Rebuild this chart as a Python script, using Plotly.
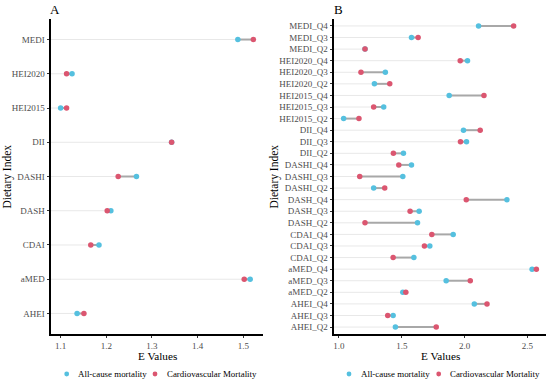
import plotly.graph_objects as go

# ---------------- data ----------------
a_index = ["MEDI", "HEI2020", "HEI2015", "DII", "DASHI", "DASH", "CDAI", "aMED", "AHEI"]
a_all = [1.488, 1.125, 1.100, 1.343, 1.266, 1.210, 1.184, 1.515, 1.136]
a_cvd = [1.522, 1.113, 1.113, 1.343, 1.226, 1.202, 1.166, 1.502, 1.151]

b_index = ["MEDI_Q4", "MEDI_Q3", "MEDI_Q2", "HEI2020_Q4", "HEI2020_Q3", "HEI2020_Q2",
           "HEI2015_Q4", "HEI2015_Q3", "HEI2015_Q2", "DII_Q4", "DII_Q3", "DII_Q2",
           "DASHI_Q4", "DASHI_Q3", "DASHI_Q2", "DASH_Q4", "DASH_Q3", "DASH_Q2",
           "CDAI_Q4", "CDAI_Q3", "CDAI_Q2", "aMED_Q4", "aMED_Q3", "aMED_Q2",
           "AHEI_Q4", "AHEI_Q3", "AHEI_Q2"]
b_all = [2.111, 1.577, 1.207, 2.023, 1.369, 1.282, 1.877, 1.356, 1.037, 1.991, 2.015, 1.513,
         1.577, 1.508, 1.276, 2.337, 1.638, 1.625, 1.909, 1.723, 1.596, 2.537, 1.853, 1.508,
         2.077, 1.431, 1.449]
b_cvd = [2.390, 1.630, 1.207, 1.965, 1.175, 1.404, 2.154, 1.276, 1.159, 2.124, 1.967, 1.433,
         1.476, 1.165, 1.364, 2.013, 1.566, 1.207, 1.739, 1.680, 1.431, 2.571, 2.045, 1.532,
         2.178, 1.388, 1.774]

a_ticks = [1.1, 1.2, 1.3, 1.4, 1.5]
b_ticks = [1.0, 1.5, 2.0, 2.5]

series_names = ["All-cause mortality", "Cardiovascular Mortality"]

# ---------------- styles ----------------
BLUE = "#55C0DF"
RED = "#DB5670"
FONT = "Liberation Serif"
W, H = 550, 383

fig = go.Figure()


def add_panel(cats, v_all, v_cvd, xa, ya):
    lo_all = min(min(v_all), min(v_cvd))
    hi_all = max(max(v_all), max(v_cvd))
    span = hi_all - lo_all
    x_lo = lo_all - 0.05 * span
    x_hi = hi_all + 0.05 * span
    gx, gy = [], []
    sx, sy = [], []
    for c, p, q in zip(cats, v_all, v_cvd):
        gx += [x_lo, min(p, q), None]
        gy += [c, c, None]
        sx += [min(p, q), max(p, q), None]
        sy += [c, c, None]
    fig.add_trace(go.Scatter(x=gx, y=gy, mode="lines", line=dict(color="#E8E8E8", width=1),
                             xaxis=xa, yaxis=ya, showlegend=False, hoverinfo="skip"))
    fig.add_trace(go.Scatter(x=sx, y=sy, mode="lines", line=dict(color="#A8A8A8", width=2),
                             xaxis=xa, yaxis=ya, showlegend=False, hoverinfo="skip"))
    fig.add_trace(go.Scatter(x=v_all, y=cats, mode="markers", name=series_names[0],
                             marker=dict(color=BLUE, size=5.5), xaxis=xa, yaxis=ya,
                             showlegend=False))
    fig.add_trace(go.Scatter(x=v_cvd, y=cats, mode="markers", name=series_names[1],
                             marker=dict(color=RED, size=5.5), xaxis=xa, yaxis=ya,
                             showlegend=False))
    return [x_lo, x_hi]


ra = add_panel(a_index, a_all, a_cvd, "x", "y")
rb = add_panel(b_index, b_all, b_cvd, "x2", "y2")

top, bot = 19, 334
ydom = [1 - bot / H, 1 - top / H]

axis_common = dict(showgrid=False, zeroline=False, showline=True, linecolor="black",
                   linewidth=1.8, ticks="outside", ticklen=2.5, tickcolor="#333333",
                   tickfont=dict(family=FONT, size=9.0, color="#4D4D4D"))

fig.update_layout(
    width=W, height=H,
    margin=dict(l=0, r=0, t=0, b=0),
    paper_bgcolor="white", plot_bgcolor="white",
    font=dict(family=FONT, color="black"),
    xaxis=dict(domain=[51 / W, 263 / W], range=ra, tickvals=a_ticks, tickformat=".1f",
               anchor="y", **axis_common),
    yaxis=dict(domain=ydom, type="category", categoryorder="array",
               categoryarray=list(reversed(a_index)), range=[-0.6, len(a_index) - 0.4],
               anchor="x", **axis_common),
    xaxis2=dict(domain=[334 / W, 546 / W], range=rb, tickvals=b_ticks, tickformat=".1f",
                anchor="y2", **axis_common),
    yaxis2=dict(domain=ydom, type="category", categoryorder="array",
                categoryarray=list(reversed(b_index)), range=[-0.6, len(b_index) - 0.4],
                anchor="x2", **axis_common),
)

ann = []
ann.append(dict(text="A", x=55 / W, y=1 - 9.5 / H, xref="paper", yref="paper",
                xanchor="center", yanchor="middle", showarrow=False,
                font=dict(family=FONT, size=13, color="black")))
ann.append(dict(text="B", x=338 / W, y=1 - 9.5 / H, xref="paper", yref="paper",
                xanchor="center", yanchor="middle", showarrow=False,
                font=dict(family=FONT, size=13, color="black")))
for cx in [157, 440]:
    ann.append(dict(text="E Values", x=cx / W, y=1 - 355.5 / H, xref="paper", yref="paper",
                    xanchor="center", yanchor="middle", showarrow=False,
                    font=dict(family=FONT, size=11.2, color="black")))
for cx in [7, 274]:
    ann.append(dict(text="Dietary Index", x=cx / W, y=1 - 176.5 / H, xref="paper",
                    yref="paper", xanchor="center", yanchor="middle", textangle=-90,
                    showarrow=False, font=dict(family=FONT, size=11.5, color="black")))

shapes = []
leg_y = 374
for dots in [(66.7, 155.0), (349.0, 438.7)]:
    for cx, col, name in zip(dots, [BLUE, RED], series_names):
        r = 2.4
        shapes.append(dict(type="circle", xref="paper", yref="paper",
                           x0=(cx - r) / W, x1=(cx + r) / W,
                           y0=1 - (leg_y + r) / H, y1=1 - (leg_y - r) / H,
                           fillcolor=col, line=dict(width=0)))
        ann.append(dict(text=name, x=(cx + 9.5) / W, y=1 - leg_y / H, xref="paper",
                        yref="paper", xanchor="left", yanchor="middle", showarrow=False,
                        font=dict(family=FONT, size=8.9, color="black")))

fig.update_layout(annotations=ann, shapes=shapes)

fig.write_html("out.html", config={"displayModeBar": False},
               post_script="document.body.style.margin='0';document.body.style.overflow='hidden';")
